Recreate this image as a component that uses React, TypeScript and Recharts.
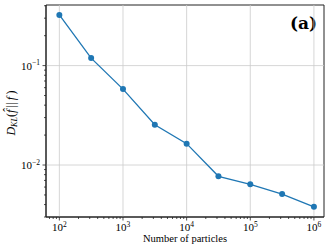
import { Line, LineChart, ReferenceArea, ReferenceLine, XAxis, YAxis } from "recharts";

const particles = [100, 316, 1000, 3162, 10000, 31623, 100000, 316228, 1000000];
const divergence = [0.323, 0.119, 0.058, 0.0254, 0.0164, 0.0077, 0.0064, 0.0051, 0.0038];

const xMajor = [100, 1000, 10000, 100000, 1000000];
const yMajor = [0.01, 0.1];
const xDomain = [61.7, 1440000];
const yDomain = [0.003, 0.407];

const FONT = "'Liberation Serif', 'DejaVu Serif', serif";
const BLUE = "#1f77b4";

const data = particles.map((n, i) => ({ n, d: divergence[i] }));

// log-axis minor ticks (1..9 of each decade) inside the domain
function logTicks(lo: number, hi: number) {
  const out: number[] = [];
  for (let e = Math.floor(Math.log10(lo)); e <= Math.ceil(Math.log10(hi)); e++) {
    for (let m = 1; m <= 9; m++) {
      const v = Number((m * Math.pow(10, e)).toPrecision(6));
      if (v >= lo && v <= hi) out.push(v);
    }
  }
  return out;
}

const xTicks = logTicks(xDomain[0], xDomain[1]);
const yTicks = logTicks(yDomain[0], yDomain[1]);

const isMajor = (v: number) => Math.abs(Math.log10(v) - Math.round(Math.log10(v))) < 1e-6;

function XTick(props: any) {
  const { x, y, payload } = props;
  const v = payload.value;
  const major = isMajor(v);
  const e = Math.round(Math.log10(v));
  return (
    <g>
      <line x1={x} x2={x} y1={y} y2={y + (major ? 3.5 : 2)} stroke="#222" strokeWidth={0.8} />
      {major && (
        <text x={x} y={y + 14} textAnchor="middle" fontFamily={FONT} fontSize={11} fill="#000">
          <tspan>10</tspan>
          <tspan dy={-4.5} fontSize={7.5}>{e}</tspan>
        </text>
      )}
    </g>
  );
}

function YTick(props: any) {
  const { x, y, payload } = props;
  const v = payload.value;
  const major = isMajor(v);
  const e = Math.round(Math.log10(v));
  return (
    <g>
      <line x1={x} x2={x - (major ? 3.5 : 2)} y1={y} y2={y} stroke="#222" strokeWidth={0.8} />
      {major && (
        <text x={x - 6} y={y + 4} textAnchor="end" fontFamily={FONT} fontSize={11} fill="#000">
          <tspan>10</tspan>
          <tspan dy={-4.5} fontSize={7.5}>{"\u2212" + Math.abs(e)}</tspan>
        </text>
      )}
    </g>
  );
}

function YLabel(props: any) {
  const { viewBox } = props;
  const cx = 15;
  const cy = viewBox.y + viewBox.height / 2 + 2;
  return (
    <text
      transform={`translate(${cx},${cy}) rotate(-90)`}
      textAnchor="middle"
      fontFamily={FONT}
      fontSize={12}
      fill="#000"
    >
      <tspan fontStyle="italic">D</tspan>
      <tspan fontStyle="italic" fontSize={8} dy={2}>KL</tspan>
      <tspan dy={-2}>(</tspan>
      <tspan fontStyle="italic">{"f\u0302"}</tspan>
      <tspan>{"\u2009||\u2009"}</tspan>
      <tspan fontStyle="italic">f</tspan>
      <tspan>{"\u2009)"}</tspan>
    </text>
  );
}

function PanelTag(props: any) {
  const { viewBox } = props;
  if (!viewBox) return null;
  return (
    <text
      x={viewBox.x + viewBox.width - 7}
      y={viewBox.y + 24}
      textAnchor="end"
      fontFamily="'DejaVu Serif', serif"
      fontWeight="bold"
      fontSize={17}
      fill="#000"
    >
      (a)
    </text>
  );
}

export default function App() {
  return (
    <div style={{ position: "absolute", left: 0, top: 0 }}>
      <LineChart width={332} height={250} data={data} margin={{ top: 5, right: 8, bottom: 0, left: 0 }}>
        {xMajor.map((v) => (
          <ReferenceLine key={`gx${v}`} x={v} stroke="#cccccc" strokeWidth={0.8} ifOverflow="hidden" />
        ))}
        {yMajor.map((v) => (
          <ReferenceLine key={`gy${v}`} y={v} stroke="#cccccc" strokeWidth={0.8} ifOverflow="hidden" />
        ))}
        <XAxis
          dataKey="n"
          type="number"
          scale="log"
          domain={xDomain}
          allowDataOverflow
          ticks={xTicks}
          interval={0}
          tick={<XTick />}
          tickLine={false}
          tickSize={0}
          tickMargin={0}
          height={33}
          axisLine={{ stroke: "#222", strokeWidth: 1 }}
          label={{ value: "Number of particles", position: "insideBottom", offset: 8, fontFamily: FONT, fontSize: 10.5, fill: "#000" }}
        />
        <YAxis
          type="number"
          scale="log"
          domain={yDomain}
          allowDataOverflow
          ticks={yTicks}
          interval={0}
          tick={<YTick />}
          tickLine={false}
          tickSize={0}
          tickMargin={0}
          width={46}
          axisLine={{ stroke: "#222", strokeWidth: 1 }}
          label={<YLabel />}
        />
        <Line
          dataKey="d"
          stroke={BLUE}
          strokeWidth={1.3}
          dot={{ r: 3, fill: BLUE, stroke: BLUE, strokeWidth: 0 }}
          isAnimationActive={false}
        />
        <ReferenceArea
          x1={xDomain[0]}
          x2={xDomain[1]}
          y1={yDomain[0]}
          y2={yDomain[1]}
          fill="none"
          fillOpacity={0}
          stroke="#222"
          strokeWidth={1}
          ifOverflow="visible"
          label={<PanelTag />}
        />
      </LineChart>
    </div>
  );
}
